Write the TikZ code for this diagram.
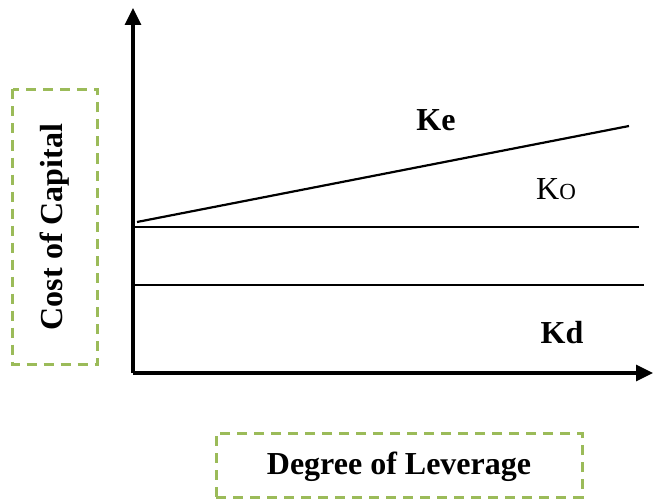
\documentclass[tikz,border=0pt]{standalone}
\usepackage{fontspec}
\setmainfont{Liberation Serif}
\usetikzlibrary{positioning, arrows.meta}
\definecolor{boxgreen}{HTML}{9BBB59}

\begin{document}
\begin{tikzpicture}[x=1pt,y=-1pt,
        axis/.style={line width=3.2pt,-{Triangle[width=16pt,length=17pt]}},
        curve/.style={line width=2.2pt},
        labelbox/.style={draw=boxgreen,line width=3pt,dash pattern=on 10pt off 7pt,
                         minimum width=366pt,minimum height=64pt,font=\fontsize{32}{36}\selectfont\bfseries},
        klabel/.style={font=\fontsize{32}{36}\selectfont}]
        \useasboundingbox (0,0) rectangle (653,500);
        % axes
        \coordinate (o) at (133,373);
        \coordinate (y_top) at (133,8);
        \coordinate (x_end) at (653,373);
        \draw[axis] (o) -- (y_top);
        \draw[axis] (o) -- (x_end);
        % lines
        \coordinate (ke_1) at (137,222);
        \coordinate (ke_2) at (629,126);
        \coordinate (ko_1) at (133,227);
        \coordinate (ko_2) at (639,227);
        \coordinate (kd_1) at (133,285);
        \coordinate (kd_2) at (644,285);
        \draw[curve] (ke_1) -- (ke_2);
        \draw[curve,line width=2.6pt] (ko_1) -- (ko_2);
        \draw[curve,line width=1.5pt] (kd_1) -- (kd_2);
        % labels
        \node[klabel,font=\fontsize{32}{36}\selectfont\bfseries] (ke) at (436,120) {Ke};
        \node[klabel] (ko) at (556,189) {K{\fontsize{23}{26}\selectfont O}};
        \node[klabel,font=\fontsize{32}{36}\selectfont\bfseries] (kd) at (562,333) {Kd};
        % axis titles
        \node[labelbox,text depth=3pt] (x_title) at (399,465) {Degree of Leverage};
        \node[labelbox,rotate=90,minimum width=275pt,minimum height=85pt] (y_title) at (55,227) {Cost of Capital};
      \end{tikzpicture}
\end{document}
